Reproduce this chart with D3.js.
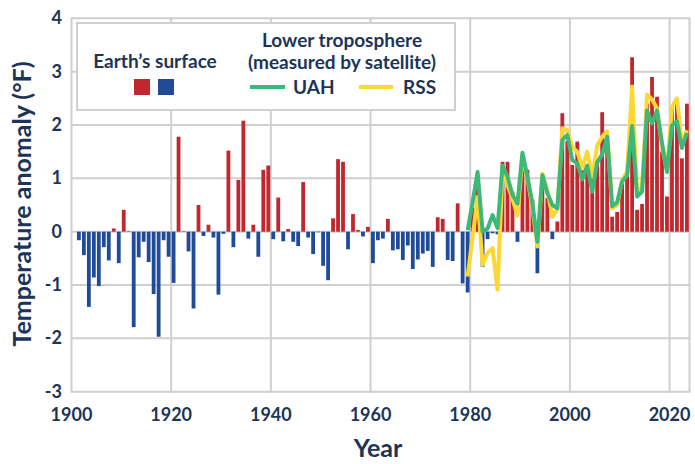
<!DOCTYPE html>
<html>
<head>
<meta charset="utf-8">
<script src="https://cdn.jsdelivr.net/npm/d3@7"></script>
<style>
  body { margin: 0; background: #fff; }
  text { font-family: Lato, 'Open Sans', sans-serif; font-weight: 700; fill: #1c3557; }
</style>
</head>
<body>
<script>
// surface anomaly (°F), one value per year 1901-2023
var surfaceStart = 1901;
var surface = [
  -0.16, -0.44, -1.41, -0.86, -1.02, -0.29, -0.54, 0.06, -0.59, 0.41,
  0.01, -1.79, -0.48, -0.19, -0.57, -1.17, -1.97, -0.16, -0.47, -0.96,
  1.78, 0.01, -0.37, -1.44, 0.5, -0.08, 0.13, -0.11, -1.18, -0.04,
  1.52, -0.29, 0.97, 2.08, -0.13, 0.13, -0.47, 1.16, 1.24, -0.14,
  0.64, -0.18, 0.05, -0.19, -0.27, 0.93, -0.11, -0.42, -0.01, -0.64,
  -0.91, 0.25, 1.36, 1.31, -0.33, 0.33, 0.03, -0.09, 0.09, -0.59,
  -0.16, -0.13, 0.24, -0.35, -0.33, -0.53, -0.26, -0.70, -0.52, -0.41,
  -0.36, -0.66, 0.27, 0.24, -0.53, -0.55, 0.53, -0.97, -1.14, 0.45,
  1.0, -0.66, -0.14, -0.03, -0.05, 1.31, 1.31, 0.75, -0.19, 1.4,
  1.16, 0.6, -0.78, 0.97, 0.63, -0.14, 0.19, 2.22, 1.7, 1.25,
  1.69, 1.15, 1.1, 1.0, 1.35, 2.24, 1.6, 0.28, 0.37, 0.9,
  1.05, 3.27, 0.41, 0.52, 2.4, 2.9, 2.53, 1.5, 0.66, 2.35,
  2.45, 1.375, 2.4
];

// lower troposphere, 1979-2023
var satStart = 1979;
var uah = [
  0.03, 0.55, 1.12, 0.0, 0.06, 0.31, 0.07, 1.24, 1.03, 0.69,
  0.53, 1.48, 1.03, 0.53, -0.19, 1.06, 0.72, 0.5, 0.44, 1.72,
  1.81, 1.34, 1.28, 0.98, 1.24, 0.75, 1.3, 1.45, 1.78, 0.48,
  0.55, 0.94, 1.05, 1.98, 0.66, 0.75, 2.27, 2.03, 2.27, 1.66,
  1.12, 1.99, 2.07, 1.57, 1.85
];
var rss = [
  -0.84, -0.1, 0.65, -0.62, -0.4, -0.31, -1.09, 1.16, 0.88, 0.62,
  0.3, 1.4, 1.0, 0.45, -0.28, 1.09, 0.78, 0.28, 0.42, 1.94,
  1.9, 1.58, 1.5, 1.2, 1.5, 1.03, 1.62, 1.78, 1.88, 0.44,
  0.5, 0.97, 1.13, 2.72, 0.73, 0.84, 2.57, 2.48, 2.31, 1.6,
  1.15, 2.34, 2.5, 1.65, 1.9
];

var xTicks = [1900, 1920, 1940, 1960, 1980, 2000, 2020];
var yTicks = [-3, -2, -1, 0, 1, 2, 3, 4];

var width = 695, height = 464;
var red = '#c1272d', blue = '#1f4b99', green = '#3cb878', yellow = '#fdd835', grid = '#cfcfcf';

var svg = d3.select('body').append('svg').attr('width', width).attr('height', height);

var x = d3.scaleLinear().domain([1900, 2024]).range([71.5, 689.5]);
var y = d3.scaleLinear().domain([-3, 4]).range([391.7, 18.3]);

// grid + frame
svg.append('g').selectAll('line.h')
  .data(yTicks).enter().append('line')
  .attr('x1', x(1900)).attr('x2', x(2024))
  .attr('y1', function (d) { return y(d); }).attr('y2', function (d) { return y(d); })
  .attr('stroke', grid).attr('stroke-width', 2);

svg.append('g').selectAll('line.v')
  .data(xTicks.concat([2024])).enter().append('line')
  .attr('x1', function (d) { return x(d); }).attr('x2', function (d) { return x(d); })
  .attr('y1', y(4) - 1).attr('y2', y(-3) + 1)
  .attr('stroke', grid).attr('stroke-width', 2);

// bars
var barData = surface.map(function (v, i) { return { year: surfaceStart + i, v: v }; });
svg.append('g').selectAll('rect')
  .data(barData).enter().append('rect')
  .attr('x', function (d) { return x(d.year) + 0.5; })
  .attr('width', 3.8)
  .attr('y', function (d) { return y(Math.max(d.v, 0)); })
  .attr('height', function (d) { return Math.abs(y(d.v) - y(0)); })
  .attr('fill', function (d) { return d.v >= 0 ? red : blue; });

// satellite lines
var line = d3.line()
  .x(function (d, i) { return x(satStart + i) + 2.4; })
  .y(function (d) { return y(d); });

svg.append('path').datum(rss)
  .attr('d', line).attr('fill', 'none')
  .attr('stroke', yellow).attr('stroke-width', 4).attr('stroke-linejoin', 'round');
svg.append('path').datum(uah)
  .attr('d', line).attr('fill', 'none')
  .attr('stroke', green).attr('stroke-width', 4).attr('stroke-linejoin', 'round');

// axis labels
svg.append('g').selectAll('text')
  .data(xTicks).enter().append('text')
  .attr('x', function (d) { return x(d); })
  .attr('y', 421)
  .attr('text-anchor', 'middle')
  .attr('font-size', 18)
  .text(function (d) { return d; });

svg.append('g').selectAll('text')
  .data(yTicks).enter().append('text')
  .attr('x', 62)
  .attr('y', function (d) { return y(d) + 6; })
  .attr('text-anchor', 'end')
  .attr('font-size', 18)
  .text(function (d) { return d; });

svg.append('text')
  .attr('x', 378).attr('y', 457)
  .attr('text-anchor', 'middle')
  .attr('font-size', 25)
  .text('Year');

svg.append('text')
  .attr('transform', 'translate(31,' + ((y(4) + y(-3)) / 2 - 1) + ') rotate(-90)')
  .attr('text-anchor', 'middle')
  .attr('font-size', 25)
  .text('Temperature anomaly (°F)');

// legend
var lg = svg.append('g');
lg.append('rect')
  .attr('x', 77).attr('y', 23).attr('width', 378).attr('height', 87)
  .attr('fill', '#fff').attr('stroke', grid).attr('stroke-width', 2);

lg.append('text').attr('x', 155).attr('y', 68).attr('text-anchor', 'middle')
  .attr('font-size', 19).text('Earth\u2019s surface');
lg.append('rect').attr('x', 134).attr('y', 79).attr('width', 16).attr('height', 16).attr('fill', red);
lg.append('rect').attr('x', 158).attr('y', 79).attr('width', 16).attr('height', 16).attr('fill', blue);

lg.append('text').attr('x', 342).attr('y', 47).attr('text-anchor', 'middle')
  .attr('font-size', 19).text('Lower troposphere');
lg.append('text').attr('x', 342).attr('y', 69).attr('text-anchor', 'middle')
  .attr('font-size', 19).text('(measured by satellite)');

lg.append('line').attr('x1', 250).attr('x2', 285).attr('y1', 87).attr('y2', 87)
  .attr('stroke', green).attr('stroke-width', 4);
lg.append('text').attr('x', 293).attr('y', 94).attr('font-size', 19).text('UAH');
lg.append('line').attr('x1', 359).attr('x2', 393).attr('y1', 87).attr('y2', 87)
  .attr('stroke', yellow).attr('stroke-width', 4);
lg.append('text').attr('x', 403).attr('y', 94).attr('font-size', 19).text('RSS');
</script>
</body>
</html>
